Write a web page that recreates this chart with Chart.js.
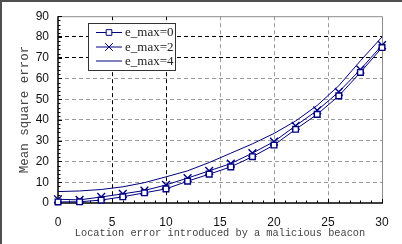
<!DOCTYPE html>
<html><head><meta charset="utf-8">
<script src="https://cdn.jsdelivr.net/npm/chart.js@4.4.1/dist/chart.umd.min.js"></script>
<style>html,body{margin:0;padding:0;background:#fff}#wrap{width:402px;height:244px}</style>
</head><body><div id="wrap"><canvas id="c" width="402" height="244"></canvas></div>
<script>
const xValues = [0,2,4,6,8,10,12,14,16,18,20,22,24,26,28,30];
const emax0 = [0.5,0.6,1.4,3.0,4.9,6.8,10.5,13.9,17.4,22.3,27.9,35.5,42.7,51.6,62.9,74.9];
const emax2 = [1.8,1.5,2.9,4.4,6.0,8.7,12.0,15.5,19.0,24.0,29.6,37.2,44.6,53.5,64.3,76.0];
const emax4 = [5.5,5.8,6.5,7.8,9.8,12.6,15.5,19.5,24.0,28.5,33.5,39.5,47.0,56.5,68.5,80.0];
const seriesLabels = ['e_max=0','e_max=2','e_max=4'];
const xTitle = 'Location error introduced by a malicious beacon';
const yTitle = 'Mean square error';
const darkGridX = [5,10];
const darkGridY = [70,80];

const navy = '#000080';
const pts = arr => arr.map((v,i)=>({x:xValues[i], y:v}));

const framePlugin = {
  id:'frame',
  beforeDraw(chart){
    const c = chart.ctx;
    c.save(); c.fillStyle='#fff'; c.fillRect(0,0,chart.width,chart.height); c.restore();
  },
  beforeDatasetsDraw(chart){
    const {ctx:c, chartArea:a, scales} = chart;
    c.save();
    c.strokeStyle='#8c8c8c'; c.lineWidth=1;
    c.beginPath(); c.moveTo(a.left, a.top+0.5); c.lineTo(a.right+0.5, a.top+0.5); c.lineTo(a.right+0.5, a.bottom); c.stroke();
    c.strokeStyle='#000'; c.lineWidth=1.5;
    c.beginPath(); c.moveTo(a.left, a.top); c.lineTo(a.left, a.bottom); c.lineTo(a.right+1, a.bottom); c.stroke();
    c.lineWidth=1;
    const ys = scales.y, xs = scales.x;
    for (let v=0; v<=90; v+=2){
      const p = Math.round(ys.getPixelForValue(v))+0.5;
      const L = (v%10===0)?4:2.5;
      c.beginPath(); c.moveTo(a.left, p); c.lineTo(a.left+L, p); c.stroke();
    }
    for (let v=0; v<=30; v+=1){
      const p = Math.round(xs.getPixelForValue(v))+0.5;
      const L = (v%5===0)?4:2.5;
      c.beginPath(); c.moveTo(p, a.bottom); c.lineTo(p, a.bottom-L); c.stroke();
    }
    c.restore();
  },
  afterDraw(chart){
    const c = chart.ctx;
    c.save();
    c.strokeStyle='#505050'; c.lineWidth=2;
    c.beginPath(); c.moveTo(1, chart.height); c.lineTo(1,1); c.lineTo(chart.width,1); c.stroke();
    const bx=88.5, by=23.5, bw=87, bh=47;
    c.fillStyle='#fff'; c.fillRect(bx,by,bw,bh);
    c.strokeStyle='#333'; c.lineWidth=1; c.strokeRect(bx,by,bw,bh);
    const rowsY=[32.5,47,61];
    chart.data.datasets.forEach((ds,i)=>{
      const y=rowsY[i];
      c.strokeStyle=navy; c.lineWidth=1;
      c.beginPath(); c.moveTo(96,y); c.lineTo(122,y); c.stroke();
      if (ds.pointStyle && ds.pointRadius>0){
        c.fillStyle='#fff';
        Chart.helpers.drawPoint(c,{pointStyle:ds.pointStyle, radius:ds.pointRadius, borderWidth:ds.pointBorderWidth||1.2}, 109, y);
      }
      c.fillStyle='#222'; c.font='13px "Liberation Serif"'; c.textBaseline='middle'; c.textAlign='left';
      c.fillText(ds.label, 125, y+0.5);
    });
    c.restore();
  }
};

new Chart(document.getElementById('c'), {
  type:'line',
  data:{ datasets:[
    {label:seriesLabels[0], data:pts(emax0), borderColor:navy, borderWidth:1, pointStyle:'rect', pointRadius:4, pointBorderWidth:1.4, pointBorderColor:navy, pointBackgroundColor:'#fff', fill:false, tension:0},
    {label:seriesLabels[1], data:pts(emax2), borderColor:navy, borderWidth:1, pointStyle:'crossRot', pointRadius:5.5, pointBorderWidth:1.4, pointBorderColor:navy, fill:false, tension:0},
    {label:seriesLabels[2], data:pts(emax4), borderColor:navy, borderWidth:1, pointRadius:0, fill:false, tension:0}
  ]},
  options:{
    responsive:false, animation:false, devicePixelRatio:1,
    layout:{padding:{left:0, top:14, right:20, bottom:0}},
    plugins:{legend:{display:false}, tooltip:{enabled:false}},
    clip:false,
    scales:{
      x:{type:'linear', min:0, max:30,
        ticks:{stepSize:5, color:'#111', padding:12, font:{family:'"Liberation Sans"', size:12}, maxRotation:0},
        grid:{drawTicks:false, lineWidth:1,
          color:ctx=>{const v=ctx.tick&&ctx.tick.value; if(v===0||v===30) return 'rgba(0,0,0,0)'; return darkGridX.includes(v)?'#000':'#9a9a9a';}},
        border:{display:false, dash:[4,3]},
        title:{display:true, text:xTitle, color:'#444', font:{family:'"Liberation Mono"', size:10.3}, padding:{top:0,bottom:5}},
        afterFit:s=>{s.height=41;}
      },
      y:{min:0, max:90,
        ticks:{stepSize:10, color:'#111', padding:9, font:{family:'"Liberation Sans"', size:12}},
        grid:{drawTicks:false, lineWidth:1,
          color:ctx=>{const v=ctx.tick&&ctx.tick.value; if(v===0||v===90) return 'rgba(0,0,0,0)'; return darkGridY.includes(v)?'#000':'#9a9a9a';}},
        border:{display:false, dash:[4,3]},
        title:{display:true, text:yTitle, color:'#444', font:{family:'"Liberation Mono"', size:12.5}, padding:{top:17.5,bottom:0}},
        afterFit:s=>{s.width=58;}
      }
    }
  },
  plugins:[framePlugin]
});
</script></body></html>
